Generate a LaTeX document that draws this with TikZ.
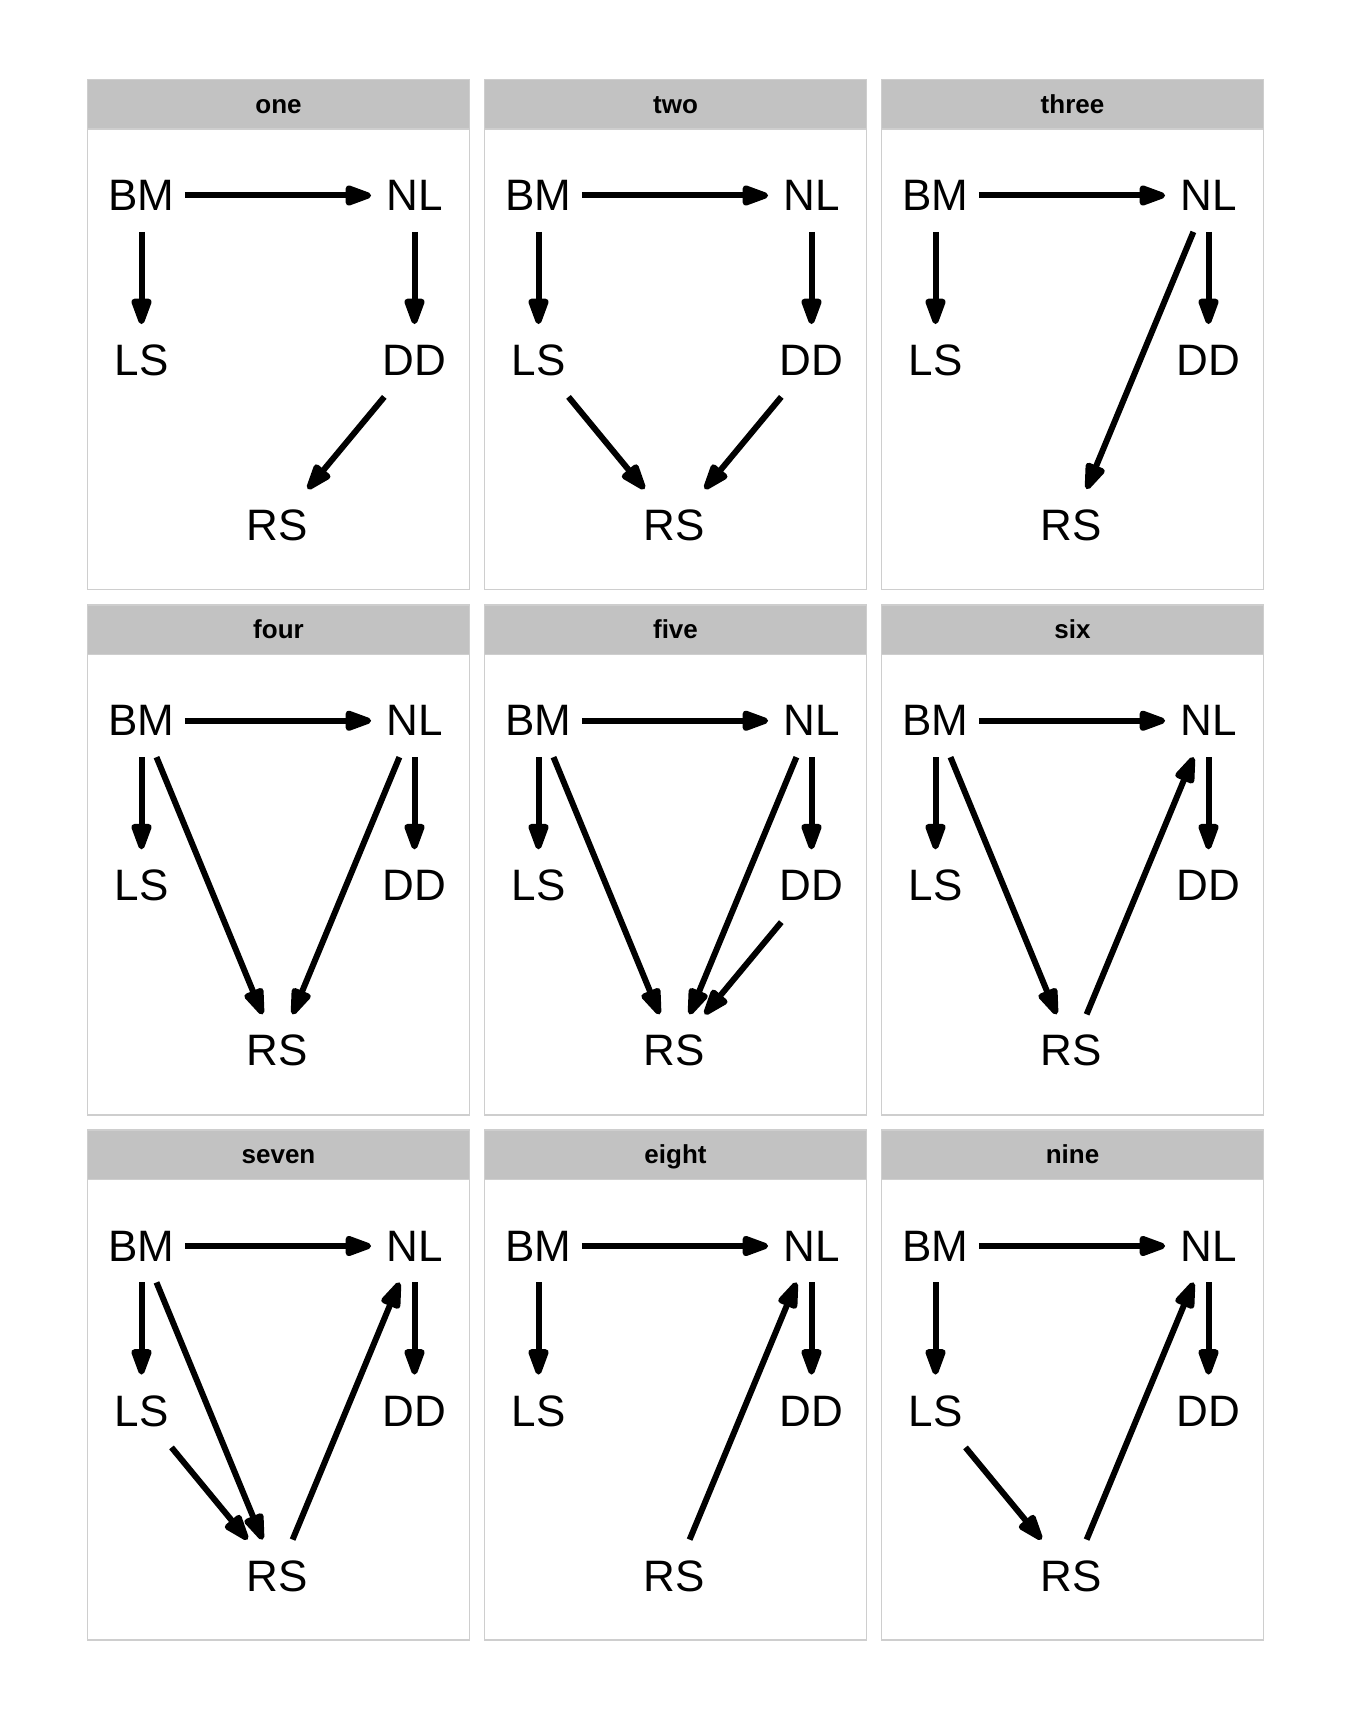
\documentclass[tikz,border=0pt]{standalone}
\usepackage{fontspec}
\setmainfont{Liberation Sans}
\usepackage{tikz}
\usetikzlibrary{arrows.meta}

\definecolor{stripgray}{RGB}{194,194,194}
\definecolor{framegray}{RGB}{206,206,206}

\begin{document}
\begin{tikzpicture}[
  x=0.5pt, y=-0.5pt,
  panel/.style={draw=framegray, line width=0.75pt, fill=white},
  strip/.style={draw=framegray, line width=0.75pt, fill=stripgray},
  var/.style={rectangle, minimum width=43pt, minimum height=36pt, inner sep=0pt, font=\fontsize{22}{26}\selectfont},
  title/.style={anchor=base, inner sep=0pt, font=\fontsize{13}{15}\selectfont\bfseries},
  arr/.style={-{Triangle[length=16pt, width=10.5pt, round]}, line width=3pt}
]
\useasboundingbox (0,0) rectangle (1344,1728);

% ── Panels: frame, strip and the five variables ──
\foreach \px/\py/\id in {87.5/79.5/one, 484.5/79.5/two, 881.5/79.5/three,
                         87.5/604.75/four, 484.5/604.75/five, 881.5/604.75/six,
                         87.5/1130/seven, 484.5/1130/eight, 881.5/1130/nine} {
  \draw[panel] (\px,\py) rectangle ++(382,510);
  \draw[strip] (\px,\py) rectangle ++(382,49.5);
  \node[title] (t-\id) at (\px+191,\py+33.8) {\id};
  \node[var] (bm-\id) at (\px+54,\py+116) {BM};
  \node[var] (nl-\id) at (\px+327,\py+116) {NL};
  \node[var] (ls-\id) at (\px+54,\py+281) {LS};
  \node[var] (dd-\id) at (\px+327,\py+281) {DD};
  \node[var] (rs-\id) at (\px+190,\py+446) {RS};
  % edges shared by every panel
  \draw[arr] (bm-\id) -- (nl-\id);
  \draw[arr] (bm-\id) -- (ls-\id);
  \draw[arr] (nl-\id) -- (dd-\id);
}

% ── one ──
\draw[arr] (dd-one) -- (rs-one);

% ── two ──
\draw[arr] (ls-two) -- (rs-two);
\draw[arr] (dd-two) -- (rs-two);

% ── three ──
\draw[arr] (nl-three) -- (rs-three);

% ── four ──
\draw[arr] (bm-four) -- (rs-four);
\draw[arr] (nl-four) -- (rs-four);

% ── five ──
\draw[arr] (bm-five) -- (rs-five);
\draw[arr] (nl-five) -- (rs-five);
\draw[arr] (dd-five) -- (rs-five);

% ── six ──
\draw[arr] (bm-six) -- (rs-six);
\draw[arr] (rs-six) -- (nl-six);

% ── seven ──
\draw[arr] (ls-seven) -- (rs-seven);
\draw[arr] (bm-seven) -- (rs-seven);
\draw[arr] (rs-seven) -- (nl-seven);

% ── eight ──
\draw[arr] (rs-eight) -- (nl-eight);

% ── nine ──
\draw[arr] (ls-nine) -- (rs-nine);
\draw[arr] (rs-nine) -- (nl-nine);

\end{tikzpicture}
\end{document}
